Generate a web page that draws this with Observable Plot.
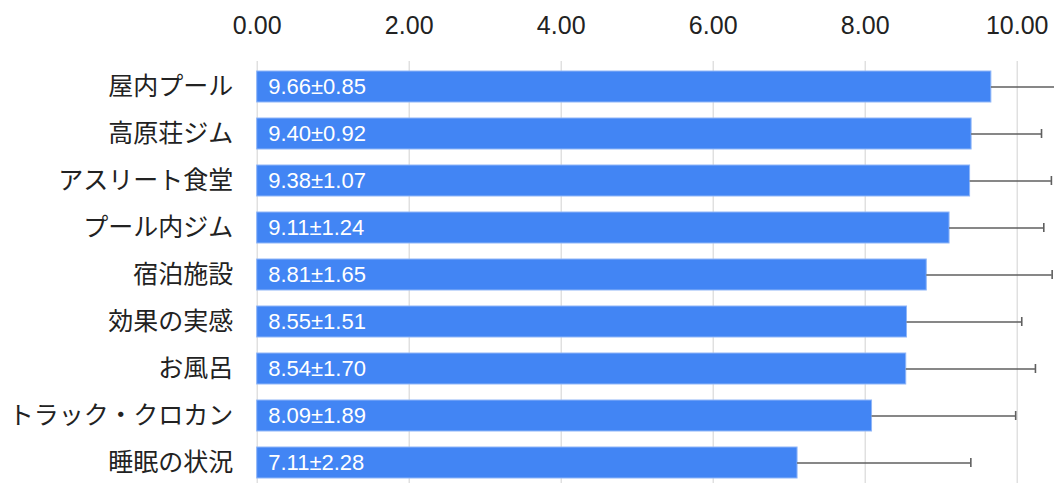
<!DOCTYPE html>
<html>
<head>
<meta charset="utf-8">
<script src="https://cdn.jsdelivr.net/npm/d3@7"></script>
<script src="https://cdn.jsdelivr.net/npm/@observablehq/plot@0.6"></script>
<style>
  html, body { margin: 0; padding: 0; background: #fff; }
  svg { display: block; }
</style>
</head>
<body>
<div id="chart"></div>
<script>
const categories = ["屋内プール", "高原荘ジム", "アスリート食堂", "プール内ジム", "宿泊施設", "効果の実感", "お風呂", "トラック・クロカン", "睡眠の状況"];
const means = [9.66, 9.40, 9.38, 9.11, 8.81, 8.55, 8.54, 8.09, 7.11];
const sds = [0.85, 0.92, 1.07, 1.24, 1.65, 1.51, 1.70, 1.89, 2.28];
const xTicks = [0, 2, 4, 6, 8, 10];

const data = categories.map((c, i) => ({
  cat: c,
  mean: means[i],
  sd: sds[i],
  label: `${means[i].toFixed(2)}±${sds[i].toFixed(2)}`
}));

const FONT = "'Liberation Sans', Arial, sans-serif";
const JPFONT = "'Noto Sans CJK JP', sans-serif";

const chart = Plot.plot({
  width: 1054,
  height: 483,
  marginTop: 61,
  marginBottom: 0,
  marginLeft: 256.7,
  marginRight: 37.3,
  style: { fontFamily: FONT, background: "#fff", overflow: "visible" },
  x: { domain: [0, 10], axis: null },
  y: { domain: categories, axis: null, range: [68.3, 480.4], paddingInner: 0.342, paddingOuter: 0 },
  marks: [
    Plot.gridX(xTicks, { stroke: "#d9d9d9", strokeOpacity: 1, strokeWidth: 1.2 }),
    Plot.barX(data, { x: "mean", y: "cat", fill: "#4285F4", stroke: "#8fb6f8", strokeWidth: 1 }),
    Plot.ruleY(data, { y: "cat", x1: "mean", x2: d => d.mean + d.sd, stroke: "#5f5f5f", strokeWidth: 1.6 }),
    Plot.tickX(data, { x: d => d.mean + d.sd, y: "cat", stroke: "#5f5f5f", strokeWidth: 1.6, insetTop: 11, insetBottom: 11 }),
    Plot.text(data, { x: 0, y: "cat", text: "label", textAnchor: "start", dx: 11, fill: "#fff", fontSize: 22, fontFamily: FONT }),
    Plot.text(data, { y: "cat", text: "cat", frameAnchor: "left", textAnchor: "end", dx: -24, fill: "#222", fontSize: 25, fontFamily: JPFONT }),
    Plot.text(xTicks, { x: d => d, text: d => d3.format(".2f")(d), frameAnchor: "top", lineAnchor: "middle", dy: -35.2, fill: "#222", fontSize: 25, fontFamily: FONT })
  ]
});

document.getElementById("chart").appendChild(chart);
</script>
</body>
</html>
